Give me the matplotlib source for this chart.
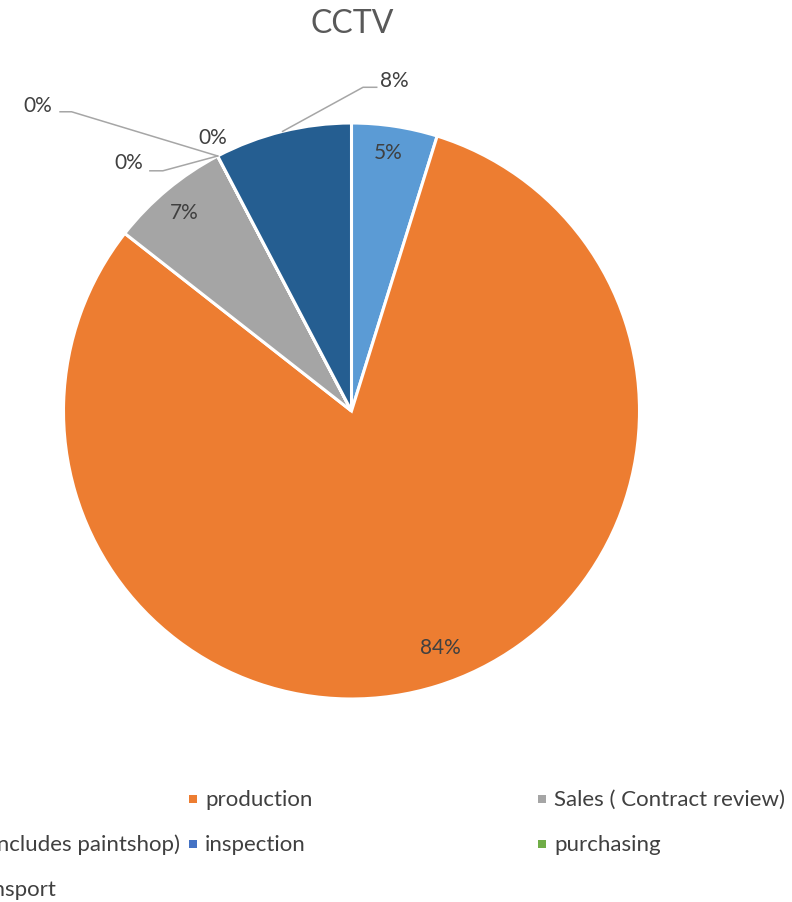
import matplotlib
matplotlib.use("Agg")
import numpy as np
import matplotlib.pyplot as plt
from matplotlib.patches import Rectangle

plt.rcParams['font.family'] = ['Lato', 'DejaVu Sans']

# data (labels show the values themselves, as in the sheet)
categories = ["design", "production", "Sales ( Contract review)",
              "maintenance (includes paintshop)", "inspection", "purchasing",
              "equipment transport"]
values = [5, 84, 7, 0, 0, 0, 8]
colors = ["#5B9BD5", "#ED7D31", "#A5A5A5", "#FFC000", "#4472C4", "#70AD47", "#255E91"]

# label positions (data units, pie radius = 1)
label_pos = [(0.127, 0.898), (0.307, -0.818), (-0.580, 0.691),
             (-0.773, 0.865), (-0.483, 0.953), (-1.089, 1.064), (0.148, 1.148)]

W, H = 792, 903
cx, cy, R = 351.5, 412, 288

fig = plt.figure(figsize=(W / 100, H / 100), dpi=100)
ax = fig.add_axes([0, 0, 1, 1])

wedges, _ = ax.pie(values, colors=colors, startangle=90, counterclock=False,
                   wedgeprops=dict(edgecolor="white", linewidth=2.2))
ax.set_xlim(-cx / R, (W - cx) / R)
ax.set_ylim(-(H - cy) / R, cy / R)
ax.set_aspect("equal")
ax.axis("off")

txt_col = "#404040"
lead_col = "#A6A6A6"

for i, (v, w) in enumerate(zip(values, wedges)):
    ax.text(label_pos[i][0], label_pos[i][1], f"{v}%", ha="center", va="center",
            fontsize=15, color=txt_col)

# leader lines
def arc_pt(theta):
    t = np.deg2rad(theta)
    return np.cos(t), np.sin(t)

# 8% slice, from the middle of its arc
w = wedges[6]
p0 = arc_pt((w.theta1 + w.theta2) / 2)
ax.plot([p0[0], 0.040, 0.0875], [p0[1], 1.124, 1.124], color=lead_col, lw=1.1)
# zero slices, from their boundary point
p0 = arc_pt(wedges[3].theta1)
ax.plot([p0[0], -0.655, -0.700], [p0[1], 0.834, 0.834], color=lead_col, lw=1.1)
p0 = arc_pt(wedges[5].theta1)
ax.plot([p0[0], -0.972, -1.012], [p0[1], 1.039, 1.039], color=lead_col, lw=1.1)

fig.text(352 / W, 1 - 33 / H, "CCTV", ha="center", va="baseline",
         fontsize=23, color="#595959")

# legend, rows filled left to right; first column runs off the left edge
col_x = [-146, 205, 554]
row_y = [800, 845, 890]
for i, (cat, c) in enumerate(zip(categories, colors)):
    x = col_x[i % 3]
    y = row_y[i // 3]
    fig.add_artist(Rectangle(((x - 16) / W, 1 - (y + 4) / H), 8 / W, 8 / H,
                             transform=fig.transFigure, color=c, lw=0))
    fig.text(x / W, 1 - y / H, cat, ha="left", va="center", fontsize=16,
             color=txt_col)

fig.savefig("out.png", dpi=100)
